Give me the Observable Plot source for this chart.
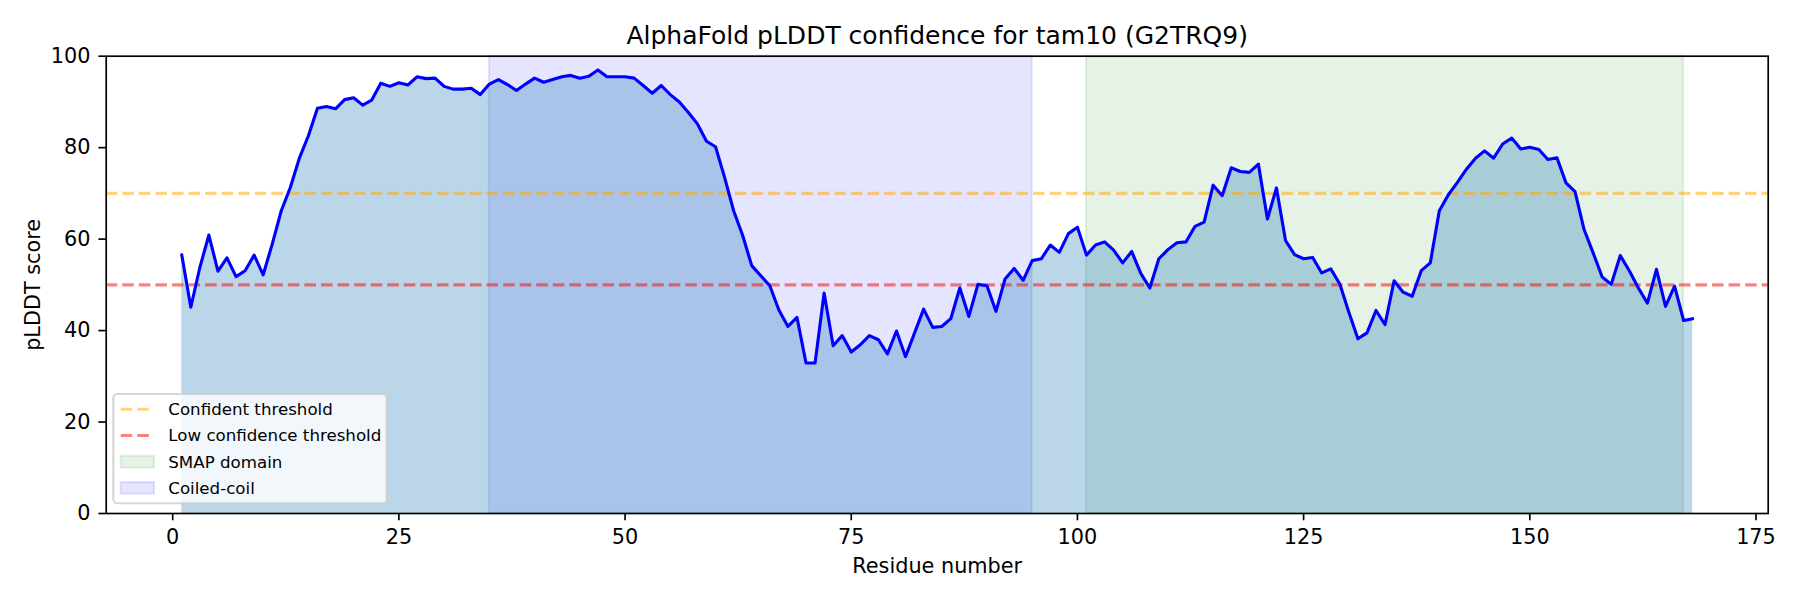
<!DOCTYPE html>
<html>
<head>
<meta charset="utf-8">
<script src="https://cdn.jsdelivr.net/npm/d3@7"></script>
<script src="https://cdn.jsdelivr.net/npm/@observablehq/plot@0.6"></script>
<style>
  html, body { margin: 0; padding: 0; background: white; }
  #chart { position: relative; width: 1800px; height: 600px; }
</style>
</head>
<body>
<div id="chart"></div>
<script>
// ---- data ----
const firstResidue = 1;
const plddt = [
  56.6, 45.1, 53.8, 60.9, 53.0, 55.9, 51.8, 53.1, 56.5, 52.2,
  58.9, 66.2, 71.3, 77.7, 82.6, 88.6, 89.0, 88.5, 90.5, 90.9,
  89.3, 90.4, 94.1, 93.4, 94.2, 93.7, 95.5, 95.1, 95.2, 93.4,
  92.8, 92.8, 93.0, 91.6, 93.9, 94.9, 93.8, 92.5, 93.9, 95.2,
  94.3, 94.9, 95.5, 95.8, 95.2, 95.6, 97.0, 95.5, 95.5, 95.5,
  95.2, 93.6, 91.9, 93.6, 91.6, 90.0, 87.7, 85.2, 81.4, 80.2,
  73.5, 66.2, 60.8, 54.2, 52.0, 49.8, 44.5, 40.9, 42.9, 32.9,
  32.9, 48.2, 36.7, 38.9, 35.3, 36.9, 38.9, 38.0, 34.9, 39.9,
  34.3, 39.5, 44.7, 40.7, 40.9, 42.6, 49.3, 43.1, 50.1, 49.8,
  44.2, 51.3, 53.6, 51.0, 55.3, 55.7, 58.7, 57.1, 61.2, 62.6,
  56.5, 58.7, 59.4, 57.6, 54.8, 57.3, 52.5, 49.3, 55.7, 57.7,
  59.2, 59.4, 62.8, 63.7, 71.8, 69.5, 75.6, 74.8, 74.6, 76.4,
  64.4, 71.2, 59.7, 56.6, 55.7, 56.0, 52.6, 53.5, 50.2, 44.0,
  38.2, 39.5, 44.4, 41.3, 50.9, 48.4, 47.5, 53.1, 54.8, 66.2,
  69.7, 72.4, 75.3, 77.7, 79.3, 77.7, 80.8, 82.1, 79.7, 80.1,
  79.6, 77.4, 77.8, 72.3, 70.4, 62.1, 57.0, 51.7, 50.1, 56.4,
  53.1, 49.3, 46.0, 53.4, 45.3, 49.7, 42.2, 42.6
];
const domainNames = ["Coiled-coil", "SMAP domain"];
const domainStarts = [35, 101];
const domainEnds = [95, 167];
const domainColors = ["blue", "green"];
const thresholdNames = ["Confident threshold", "Low confidence threshold"];
const thresholdValues = [70, 50];
const thresholdColors = ["orange", "red"];
const xTicks = [0, 25, 50, 75, 100, 125, 150, 175];
const yTicks = [0, 20, 40, 60, 80, 100];
const titleText = "AlphaFold pLDDT confidence for tam10 (G2TRQ9)";
const xLabel = "Residue number";
const yLabel = "pLDDT score";

// ---- tables ----
const residues = plddt.map((v, i) => ({residue: firstResidue + i, plddt: v}));
const domains = domainNames.map((name, i) => ({name, start: domainStarts[i], end: domainEnds[i], color: domainColors[i]}));
const thresholds = thresholdNames.map((name, i) => ({name, value: thresholdValues[i], color: thresholdColors[i]}));

const FONT = "DejaVu Sans, sans-serif";
const mL = 105.7, mR = 32.3, mT = 55.7, mB = 87;

const chart = Plot.plot({
  width: 1800,
  height: 600,
  marginLeft: mL,
  marginRight: mR,
  marginTop: mT,
  marginBottom: mB,
  style: {fontFamily: FONT, background: "white", color: "black", overflow: "visible"},
  x: {domain: [-7.35, 176.35]},
  y: {domain: [0, 100]},
  marks: [
    Plot.rect(domains, {
      x1: "start", x2: "end", y1: 0, y2: 100,
      fill: "color", fillOpacity: 0.1,
      stroke: "color", strokeOpacity: 0.1, strokeWidth: 2.08
    }),
    Plot.areaY(residues, {x: "residue", y: "plddt", fill: "#1f77b4", fillOpacity: 0.3}),
    Plot.ruleY(thresholds, {
      y: "value", stroke: "color", strokeOpacity: 0.5,
      strokeWidth: 3.1, strokeDasharray: "11.56 5"
    }),
    Plot.lineY(residues, {x: "residue", y: "plddt", stroke: "blue", strokeWidth: 3.1}),
    Plot.axisX({
      ticks: xTicks, tickSize: 7.3, tickPadding: 8, fontSize: 20.8,
      label: null, strokeWidth: 1.67, tickFormat: d => String(d)
    }),
    Plot.axisY({
      ticks: yTicks, tickSize: 7.3, tickPadding: 8.5, fontSize: 20.8,
      label: null, strokeWidth: 1.67, tickFormat: d => String(d)
    }),
    Plot.frame({stroke: "black", strokeWidth: 1.67}),
    Plot.text([titleText], {
      frameAnchor: "top", lineAnchor: "bottom", dy: -12.5,
      fontSize: 25, fill: "black", text: d => d
    }),
    Plot.text([xLabel], {
      frameAnchor: "bottom", lineAnchor: "bottom", dy: 59.7,
      fontSize: 20.8, fill: "black", text: d => d
    }),
    Plot.text([yLabel], {
      frameAnchor: "left", textAnchor: "middle", lineAnchor: "bottom", rotate: -90, dx: -66.5,
      fontSize: 20.8, fill: "black", text: d => d
    })
  ]
});

// ---- legend (matplotlib-style, lower left) ----
const svg = d3.select(chart);
const lg = svg.append("g").attr("font-family", FONT).attr("text-anchor", "start");
const boxX = 113.3, boxY = 394, boxW = 273.4, boxH = 109.3;
lg.append("rect")
  .attr("x", boxX).attr("y", boxY).attr("width", boxW).attr("height", boxH)
  .attr("rx", 4).attr("ry", 4)
  .attr("fill", "white").attr("fill-opacity", 0.8)
  .attr("stroke", "#cccccc").attr("stroke-opacity", 0.8).attr("stroke-width", 2.08);

const legendItems = [
  ...thresholds.map(t => ({type: "line", name: t.name, color: t.color})),
  ...["SMAP domain", "Coiled-coil"].map(n => {
    const d = domains.find(e => e.name === n);
    return {type: "patch", name: d.name, color: d.color};
  })
];
const rowY0 = 409.3, rowStep = 26.2, hx0 = 120.7, hx1 = 154, tx = 168.3;
legendItems.forEach((it, i) => {
  const cy = rowY0 + i * rowStep;
  if (it.type === "line") {
    lg.append("line")
      .attr("x1", hx0).attr("x2", hx1).attr("y1", cy).attr("y2", cy)
      .attr("stroke", it.color).attr("stroke-opacity", 0.5)
      .attr("stroke-width", 3.1).attr("stroke-dasharray", "11.56 5");
  } else {
    lg.append("rect")
      .attr("x", hx0).attr("y", cy - 5.85).attr("width", hx1 - hx0).attr("height", 11.7)
      .attr("fill", it.color).attr("fill-opacity", 0.1)
      .attr("stroke", it.color).attr("stroke-opacity", 0.1).attr("stroke-width", 2.08);
  }
  lg.append("text")
    .attr("x", tx).attr("y", cy).attr("dy", "0.35em")
    .attr("text-anchor", "start")
    .attr("font-size", 16.67).attr("fill", "black")
    .text(it.name);
});

document.getElementById("chart").appendChild(chart);
</script>
</body>
</html>
